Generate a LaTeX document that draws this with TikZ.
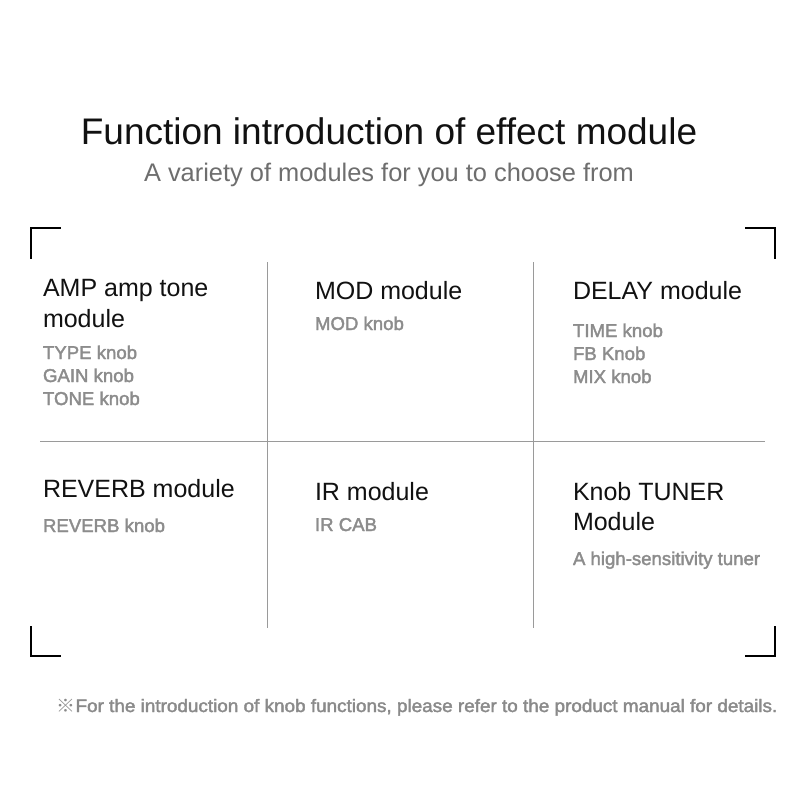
\documentclass[tikz,border=0pt]{standalone}
\usepackage{fontspec}
\setmainfont{Liberation Sans}
\newfontfamily\heavyfont[FakeBold=2.0]{Liberation Sans}
\newfontfamily\cjkfont{Noto Sans CJK SC}
\definecolor{headc}{HTML}{111111}
\definecolor{subc}{HTML}{6E6E6E}
\definecolor{itemc}{HTML}{8C8C8C}
\definecolor{notec}{HTML}{8A8A8A}
\definecolor{divc}{HTML}{9A9A9A}
\begin{document}
\begin{tikzpicture}[x=1pt,y=-1pt,
  every node/.style={inner sep=0pt,outer sep=0pt},
  titletext/.style={anchor=base,text=headc,font=\fontsize{37}{40}\selectfont},
  subtext/.style={anchor=base,text=subc,font=\fontsize{25.4}{28}\selectfont},
  headtext/.style={anchor=base west,text=headc,font=\fontsize{25}{28}\selectfont},
  itemtext/.style={anchor=base west,text=itemc,font=\fontsize{18.6}{20}\heavyfont},
  notetext/.style={anchor=base,text=notec,font=\fontsize{18}{20}\heavyfont},
  divider/.style={draw=divc,line width=1pt},
  bracket/.style={draw=black,line width=2pt,line cap=rect}]
\useasboundingbox[fill=white] (0,0) rectangle (800,800);

% title
\node[titletext] (title) at (389,144) {Function introduction of effect module};
\node[subtext] (sub) at (389,181) {A variety of modules for you to choose from};

% corner brackets
\coordinate (tl1) at (31,258); \coordinate (tl2) at (31,228); \coordinate (tl3) at (60,228);
\coordinate (tr1) at (746,228); \coordinate (tr2) at (775,228); \coordinate (tr3) at (775,258);
\coordinate (bl1) at (31,627); \coordinate (bl2) at (31,656); \coordinate (bl3) at (60,656);
\coordinate (br1) at (746,656); \coordinate (br2) at (775,656); \coordinate (br3) at (775,627);
\draw[bracket] (tl1) -- (tl2) -- (tl3);
\draw[bracket] (tr1) -- (tr2) -- (tr3);
\draw[bracket] (bl1) -- (bl2) -- (bl3);
\draw[bracket] (br1) -- (br2) -- (br3);

% dividers
\coordinate (v1t) at (267.5,262); \coordinate (v1b) at (267.5,628);
\coordinate (v2t) at (533.5,262); \coordinate (v2b) at (533.5,628);
\coordinate (hl) at (40,441.5); \coordinate (hr) at (765,441.5);
\draw[divider] (v1t) -- (v1b);
\draw[divider] (v2t) -- (v2b);
\draw[divider] (hl) -- (hr);

% cell 1
\node[headtext] (amp1) at (43,296) {AMP amp tone};
\node[headtext] (amp2) at (43,327) {module};
\node[itemtext] (amp3) at (43,359) {TYPE knob};
\node[itemtext] (amp4) at (43,382) {GAIN knob};
\node[itemtext] (amp5) at (43,405) {TONE knob};

% cell 2
\node[headtext] (mod1) at (315,299) {MOD module};
\node[itemtext] (mod2) at (315,330) {MOD knob};

% cell 3
\node[headtext] (del1) at (573,299) {DELAY module};
\node[itemtext] (del2) at (573,337) {TIME knob};
\node[itemtext] (del3) at (573,360) {FB Knob};
\node[itemtext] (del4) at (573,383) {MIX knob};

% cell 4
\node[headtext] (rev1) at (43,497) {REVERB module};
\node[itemtext] (rev2) at (43,532) {REVERB knob};

% cell 5
\node[headtext] (ir1) at (315,500) {IR module};
\node[itemtext] (ir2) at (315,531) {IR CAB};

% cell 6
\node[headtext] (tun1) at (573,500) {Knob TUNER};
\node[headtext] (tun2) at (573,530) {Module};
\node[itemtext] (tun3) at (573,565) {A high-sensitivity tuner};

% footnote
\node[notetext] (note) at (417,712) {\scalebox{1.05}[1]{{\cjkfont ※}For the introduction of knob functions, please refer to the product manual for details.}};
\end{tikzpicture}
\end{document}
